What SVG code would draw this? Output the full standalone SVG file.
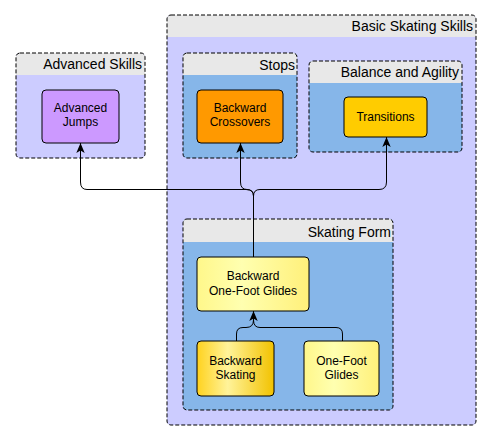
<svg xmlns="http://www.w3.org/2000/svg" width="492" height="440" viewBox="0 0 492 440">
<defs>
<marker id="arr" viewBox="0 0 10 10" refX="10" refY="5" markerWidth="10" markerHeight="10" markerUnits="userSpaceOnUse" orient="auto">
<path d="M0,0.8 L10,5 L0,9.2 L2.5,5 Z" fill="#000"/>
</marker>
<linearGradient id="gSk" x1="0" y1="0" x2="1" y2="0">
<stop offset="0" stop-color="#FFD21E"/>
<stop offset="0.4" stop-color="#FFF39A"/>
<stop offset="1" stop-color="#F2C200"/>
</linearGradient>
<linearGradient id="gLy" x1="0" y1="0" x2="1" y2="0">
<stop offset="0" stop-color="#FFF78A"/>
<stop offset="0.4" stop-color="#FFFFB0"/>
<stop offset="1" stop-color="#FFF07A"/>
</linearGradient>
</defs>
<style>
.grp{stroke:#000;stroke-width:1;stroke-dasharray:4,2}
.outer{fill:#CCCCFF}
.inner{fill:#86B6E9}
.hdr{fill:#E8E8E8}
.gt{font-family:"Liberation Sans",Arial,sans-serif;font-size:14px;fill:#000;text-anchor:end}
.node rect{stroke:#000;stroke-width:1}
.nt{font-family:"Liberation Sans",Arial,sans-serif;font-size:12px;fill:#000;text-anchor:middle}
.edge{fill:none;stroke:#000;stroke-width:1}
</style>
<rect width="492" height="440" fill="#fff"/>
<g id="g-advanced">
<rect x="16" y="53" width="129" height="105" rx="4" class="outer"/>
<path d="M20,53 H141 Q145,53 145,57 V75 H16 V57 Q16,53 20,53 Z" class="hdr"/>
<rect x="16" y="53" width="129" height="105" rx="4" fill="none" class="grp"/>
<text x="142" y="69" class="gt">Advanced Skills</text>
</g>
<g id="g-basic">
<rect x="167" y="15" width="309" height="410" rx="4" class="outer"/>
<path d="M171,15 H472 Q476,15 476,19 V37 H167 V19 Q167,15 171,15 Z" class="hdr"/>
<rect x="167" y="15" width="309" height="410" rx="4" fill="none" class="grp"/>
<text x="473" y="31" class="gt">Basic Skating Skills</text>
</g>
<g id="g-stops">
<rect x="183" y="53" width="114" height="105" rx="4" class="inner"/>
<path d="M187,53 H293 Q297,53 297,57 V75 H183 V57 Q183,53 187,53 Z" class="hdr"/>
<rect x="183" y="53" width="114" height="105" rx="4" fill="none" class="grp"/>
<text x="295" y="70" class="gt">Stops</text>
</g>
<g id="g-balance">
<rect x="309" y="61" width="153" height="91" rx="4" class="inner"/>
<path d="M313,61 H458 Q462,61 462,65 V83 H309 V65 Q309,61 313,61 Z" class="hdr"/>
<rect x="309" y="61" width="153" height="91" rx="4" fill="none" class="grp"/>
<text x="459" y="77" class="gt">Balance and Agility</text>
</g>
<g id="g-form">
<rect x="183" y="219" width="210" height="191" rx="4" class="inner"/>
<path d="M187,219 H389 Q393,219 393,223 V242 H183 V223 Q183,219 187,219 Z" class="hdr"/>
<rect x="183" y="219" width="210" height="191" rx="4" fill="none" class="grp"/>
<text x="391" y="237" class="gt">Skating Form</text>
</g>
<g id="n-jumps" class="node">
<rect x="42" y="90" width="77" height="53" rx="4" fill="#CC99FF"/>
<text x="80.5" y="112" class="nt">Advanced</text>
<text x="80.5" y="126" class="nt">Jumps</text>
</g>
<g id="n-crossovers" class="node">
<rect x="197" y="90" width="86" height="53" rx="4" fill="#FF9900"/>
<text x="240" y="112" class="nt">Backward</text>
<text x="240" y="126" class="nt">Crossovers</text>
</g>
<g id="n-transitions" class="node">
<rect x="344" y="97" width="83" height="40" rx="4" fill="#FFCC00"/>
<text x="385.5" y="121" class="nt">Transitions</text>
</g>
<g id="n-bofg" class="node">
<rect x="197" y="257" width="112" height="54" rx="4" fill="url(#gLy)"/>
<text x="253" y="280" class="nt">Backward</text>
<text x="253" y="295" class="nt">One-Foot Glides</text>
</g>
<g id="n-bskating" class="node">
<rect x="197" y="341" width="77" height="55" rx="4" fill="url(#gSk)"/>
<text x="235.5" y="365" class="nt">Backward</text>
<text x="235.5" y="379" class="nt">Skating</text>
</g>
<g id="n-ofg" class="node">
<rect x="304" y="341" width="75" height="55" rx="4" fill="url(#gLy)"/>
<text x="341.5" y="365" class="nt">One-Foot</text>
<text x="341.5" y="379" class="nt">Glides</text>
</g>
<g id="connectors">
<path class="edge" d="M253.5,257 V196 Q253.5,189.5 246,189.5 H87 Q80.5,189.5 80.5,182 V143" marker-end="url(#arr)"/>
<path class="edge" d="M253.5,196 Q253.5,189.5 247,189.5 Q240.5,189.5 240.5,182 V143" marker-end="url(#arr)"/>
<path class="edge" d="M253.5,196 Q253.5,189.5 260,189.5 H379 Q386.5,189.5 386.5,182 V137" marker-end="url(#arr)"/>
<path class="edge" d="M236.5,341 V334 Q236.5,327.5 243,327.5 H246 Q253.5,327.5 253.5,320 V311" marker-end="url(#arr)"/>
<path class="edge" d="M342.5,341 V334 Q342.5,327.5 336,327.5 H260 Q253.5,327.5 253.5,320"/>
</g>
</svg>
